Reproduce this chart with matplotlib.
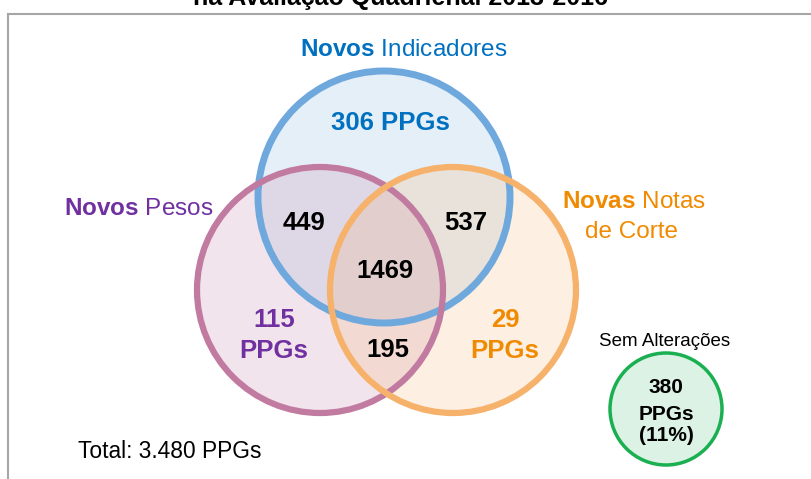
import matplotlib
matplotlib.use("Agg")
import matplotlib.pyplot as plt
from matplotlib.patches import Circle
from matplotlib.lines import Line2D

plt.rcParams['font.family'] = ['Liberation Sans', 'DejaVu Sans']
plt.rcParams['mathtext.fontset'] = 'custom'
plt.rcParams['mathtext.rm'] = 'Liberation Sans'
plt.rcParams['mathtext.bf'] = 'Liberation Sans:bold'

# dados
conjuntos = ['Indicadores', 'Pesos', 'Notas de Corte']
so_um = [306, 115, 29]            # Indicadores, Pesos, Notas
ind_pesos = 449
ind_notas = 537
pesos_notas = 195
todos = 1469
sem_alteracoes = 380
total = 3480
pct_sem = 11

# cores
azul, azul_txt = '#6fa8dc', '#0070c0'
roxo, roxo_txt = '#c27ba0', '#7030a0'
laranja, laranja_txt = '#f6b26b', '#f08a00'
verde = '#1aaf50'

fig = plt.figure(figsize=(8.12, 4.79), dpi=100)
ax = fig.add_axes([0, 0, 1, 1])
ax.set_xlim(0, 812)
ax.set_ylim(479, 0)
ax.axis('off')

# moldura cinza
ax.add_line(Line2D([8, 812], [14, 14], color='#a6a6a6', lw=1.5))
ax.add_line(Line2D([8, 8], [14, 479], color='#a6a6a6', lw=1.5))

# titulo (cortado no topo, como no original)
ax.text(401, 5, 'na Avaliação Quadrienal 2013-2016', fontsize=18,
        fontweight='bold', ha='center', va='baseline', clip_on=False)

# circulos (preenchimento primeiro, depois as bordas)
circ = [((384, 197), 126, azul, 0.18, 5.0),
        ((320, 290), 123, roxo, 0.20, 4.5),
        ((453, 290), 123, laranja, 0.20, 4.5)]
for (c, r, cor, a, lw) in circ:
    ax.add_patch(Circle(c, r, facecolor=cor, alpha=a, edgecolor='none'))
for (c, r, cor, a, lw) in circ:
    ax.add_patch(Circle(c, r, facecolor='none', edgecolor=cor, lw=lw))

ax.add_patch(Circle((666, 409), 56, facecolor='#dbf2e4', edgecolor=verde, lw=2.5))

# rotulos dos conjuntos
ax.text(404, 56, r'$\bf{Novos}$ ' + conjuntos[0], color=azul_txt, fontsize=17.5,
        ha='center', va='baseline')
ax.text(139, 215, r'$\bf{Novos}$ ' + conjuntos[1], color=roxo_txt, fontsize=17.5,
        ha='center', va='baseline')
ax.text(634, 208, r'$\bf{Novas}$ ' + conjuntos[2].split(' ')[0], color=laranja_txt,
        fontsize=17.5, ha='center', va='baseline')
ax.text(632, 238, ' '.join(conjuntos[2].split(' ')[1:]), color=laranja_txt,
        fontsize=17.5, ha='center', va='baseline')

# valores
bold = dict(fontsize=18.5, fontweight='bold', ha='center', va='baseline')
ax.text(390, 130, f'{so_um[0]} PPGs', color=azul_txt, **bold)
ax.text(274, 327, f'{so_um[1]}', color=roxo_txt, **bold)
ax.text(274, 358, 'PPGs', color=roxo_txt, **bold)
ax.text(505, 327, f'{so_um[2]}', color=laranja_txt, **bold)
ax.text(505, 358, 'PPGs', color=laranja_txt, **bold)
ax.text(304, 230, f'{ind_pesos}', color='black', **bold)
ax.text(466, 230, f'{ind_notas}', color='black', **bold)
ax.text(385, 278, f'{todos}', color='black', **bold)
ax.text(388, 357, f'{pesos_notas}', color='black', **bold)

# sem alteracoes
ax.text(665, 346, 'Sem Alterações', fontsize=13.5, ha='center', va='baseline')
small = dict(fontsize=15, fontweight='bold', ha='center', va='baseline', color='black')
ax.text(666, 393, f'{sem_alteracoes}', **small)
ax.text(666, 420, 'PPGs', **small)
ax.text(666, 441, f'({pct_sem}%)', **small)

# total
ax.text(78, 458, 'Total: ' + f'{total:,}'.replace(',', '.') + ' PPGs',
        fontsize=16.4, ha='left', va='baseline')

fig.savefig('out.png', dpi=100)
